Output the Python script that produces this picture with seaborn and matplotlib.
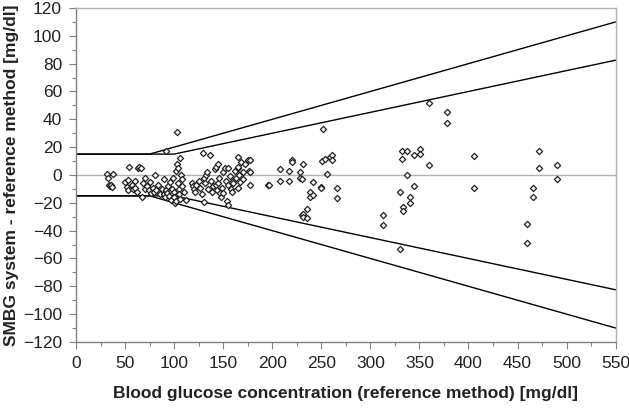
import numpy as np
import pandas as pd
import seaborn as sns
import matplotlib.pyplot as plt
from matplotlib.ticker import MultipleLocator

# reference glucose [mg/dl] and difference SMBG - reference [mg/dl]
glucose = [32, 33, 38, 34, 35, 36, 37, 50, 52, 53, 53, 54, 57, 58, 60, 60, 62, 63, 64, 66,
           67, 68, 70, 70, 72, 74, 75, 76, 78, 80, 81, 82, 84, 86, 88, 90, 90, 91, 92, 92,
           93, 94, 95, 96, 97, 98, 99, 100, 100, 101, 102, 102, 103, 103, 104, 104, 105, 105, 106, 106,
           107, 108, 108, 110, 112,
           118, 119, 120, 121, 122, 125, 126, 128, 129, 130, 130, 131, 133, 134, 135, 137, 138, 139, 140, 142,
           143, 143, 144, 145, 145, 146, 147, 148, 149, 150, 150, 152, 153, 154, 155, 155, 155, 157, 158, 159,
           160, 160, 162, 163, 165, 165, 165, 165, 166, 167, 168, 170, 170, 172, 175, 176, 177, 177, 177,
           196, 197, 208, 208, 217, 217, 220, 220, 228, 228, 230, 231, 230, 231, 231, 235, 235, 238, 238, 242,
           242, 250, 250, 251, 252, 254, 256, 259, 261, 261, 266, 266,
           360, 378, 378, 332, 337, 332, 344, 351, 351, 360, 337, 344, 330, 340, 340, 333, 333, 313, 313, 330,
           406, 406, 472, 472, 490, 490, 466, 466, 460, 460]
difference = [1, -2.5, 1, -7, -8, -7.5, -8.5, -5, -8.5, -11, -3.5, 5.5, -7, -10, -4, -9, -12, 5, 5.5, 5,
              -16, -6, -2.5, -10, -8, -11, -5, -13, -9, -12, 0, -11, -7, -14, -10, -3, -14, -16, 17, -11,
              -13, -8, -15, -5, -18, -10, -2, -12, -16, -20, 2.5, -19, 31, 8, 5, -6, -10, -14, 12, -17,
              0, -3, -8, -12, -18,
              -6, -8, -10, -12, -7, -4, -9, -14, 16, -2.5, -19.5, -6, 0, 2.4, -10, 14, -4, -12, -8, 4,
              6, -7, -11, 8, -6, -2, -13, -16, -9, -13, 2, 5, -4, -19, 5, -21.5, -7, -1, -10, -12.5,
              -4, -6, 3, -2, 13, 5, 6, -9, 0, -5, 9, 2, -3, 8, 11, 3, 11, 2.4, -7,
              -7, -7.5, 4, -4.5, 2.5, -4.5, 11, 9, 2, -2.5, -3, 8, -29, -28, -30.5, -24.5, -31, -12.5, -15.5, -14.5,
              -5, -8.5, -9.5, 10, 33, 11.5, 1, 13, 14, 11, -9.5, -16.5,
              51.5, 45, 37, 17.5, 17, 11.5, 14, 19, 15, 7.5, 0, -8, -12.5, -16, -20, -23, -26, -29, -36, -53.5,
              13.5, -9.5, 17.5, 5, 7, -3, -9, -16, -35, -49]

# accuracy limits (break points)
limit_x_inner = [0, 100, 550]
limit_y_inner = [15, 15, 82.5]
limit_x_outer = [0, 75, 550]
limit_y_outer = [15, 15, 110]

df = pd.DataFrame({"glucose": glucose, "difference": difference})

sns.set_style("white")
plt.rcParams['font.family'] = ['Liberation Sans', 'DejaVu Sans']

fig = plt.figure(figsize=(6.29, 4.12), dpi=100)
ax = fig.add_axes([0.1208, 0.170, 0.858, 0.8106])

# zero line
ax.axhline(0, color="#b0b0b0", lw=1, zorder=1)

# limit lines, upper and lower
for lx, ly in [(limit_x_inner, limit_y_inner), (limit_x_outer, limit_y_outer)]:
    sns.lineplot(x=lx, y=ly, color="black", lw=1, estimator=None, ax=ax, zorder=2)
    sns.lineplot(x=lx, y=[-v for v in ly], color="black", lw=1, estimator=None, ax=ax, zorder=2)

sns.scatterplot(data=df, x="glucose", y="difference", marker="D", s=10,
                facecolor="white", edgecolor="#222222", linewidth=0.9, ax=ax, zorder=3)

ax.set_xlim(0, 550)
ax.set_ylim(-120, 120)
ax.xaxis.set_major_locator(MultipleLocator(50))
ax.xaxis.set_minor_locator(MultipleLocator(25))
ax.yaxis.set_major_locator(MultipleLocator(20))
ax.yaxis.set_minor_locator(MultipleLocator(10))
ax.tick_params(which="major", direction="out", length=5, width=0.8, color="#808080",
               labelsize=12.5, labelcolor="#222222", left=True, bottom=True, pad=5)
ax.tick_params(which="minor", direction="out", length=3, width=0.8, color="#808080",
               left=True, bottom=True)

for side in ["left", "bottom"]:
    ax.spines[side].set_color("#808080")
    ax.spines[side].set_linewidth(1)
for side in ["top", "right"]:
    ax.spines[side].set_color("#b0b0b0")
    ax.spines[side].set_linewidth(1)

ax.set_xlabel("Blood glucose concentration (reference method) [mg/dl]",
              fontsize=12.5, fontweight="bold", labelpad=11, color="#222222")
ax.set_ylabel("SMBG system - reference method [mg/dl]",
              fontsize=12.5, fontweight="bold", labelpad=3, color="#222222")

plt.savefig("out.png", dpi=100)
